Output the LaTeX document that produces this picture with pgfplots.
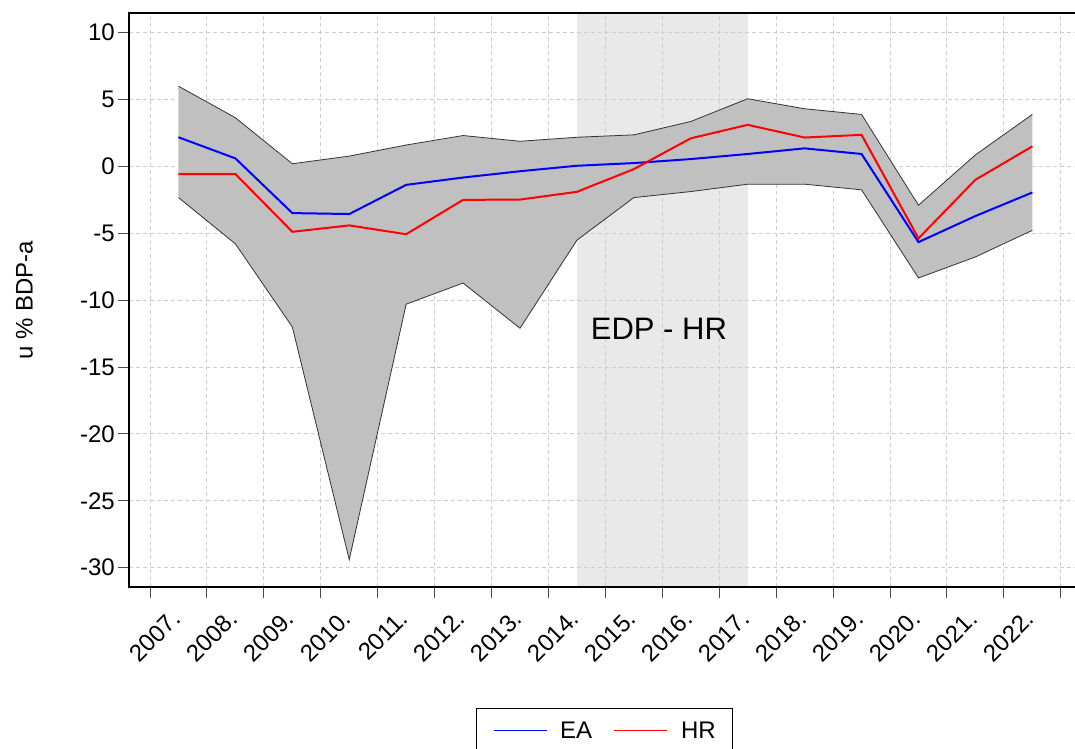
\documentclass[border=0pt]{standalone}
\usepackage{pgfplots}
\pgfplotsset{compat=1.18}
\usepgfplotslibrary{fillbetween}
\usepackage{pgfplotstable}
\usepackage{fontspec}
\setmainfont{Liberation Sans}
\definecolor{bandgray}{RGB}{192,192,192}
\definecolor{edpgray}{RGB}{233,233,233}
\definecolor{gridgray}{RGB}{205,205,205}
\definecolor{eablue}{RGB}{0,0,255}
\definecolor{hrred}{RGB}{255,0,0}

\pgfplotstableread{
k upper lower ea hr
0  6.00  -2.33  2.18 -0.57
1  3.64  -5.79  0.60 -0.57
2  0.20 -12.00 -3.49 -4.89
3  0.77 -29.40 -3.56 -4.41
4  1.60 -10.30 -1.38 -5.07
5  2.31  -8.72 -0.83 -2.50
6  1.88 -12.10 -0.36 -2.48
7  2.18  -5.51  0.05 -1.90
8  2.36  -2.33  0.25 -0.20
9  3.36  -1.88  0.55  2.10
10 5.06  -1.33  0.93  3.11
11 4.31  -1.33  1.35  2.16
12 3.89  -1.75  0.93  2.36
13 -2.90 -8.34 -5.66 -5.38
14 0.86  -6.77 -3.71 -1.00
15 3.89  -4.78 -1.95  1.50
}\datatable

\begin{document}
\begin{tikzpicture}
\begin{axis}[
  set layers,
  scale only axis,
  width=947.7bp, height=574bp,
  at={(129.3bp,161.7bp)}, anchor=south west,
  xmin=-0.864, xmax=15.785,
  ymin=-31.47, ymax=11.45,
  axis line style={line width=2bp, black},
  tick align=outside, tick pos=left,
  major tick length=11bp, minor tick length=11bp,
  tick style={black!70, line width=0.9bp},
  major x tick style={draw=none},
  xtick={0,...,15},
  xticklabels={2007.,2008.,2009.,2010.,2011.,2012.,2013.,2014.,2015.,2016.,2017.,2018.,2019.,2020.,2021.,2022.},
  minor xtick={-0.5,0.5,...,15.5},
  ytick={-30,-25,...,10},
  yticklabels={-30,-25,-20,-15,-10,-5,0,5,10},
  ticklabel style={font=\fontsize{24bp}{28bp}\selectfont},
  xticklabel style={yshift=-14bp, rotate=45, anchor=east},
  grid style={gridgray, line width=0.9bp, dash pattern=on 4bp off 3bp},
  minor grid style={gridgray, line width=0.9bp, dash pattern=on 4bp off 3bp},
  xmajorgrids=false, xminorgrids=true, ymajorgrids=true,
  ylabel={u \% BDP-a},
  every axis y label/.style={at={(axis description cs:-0.1106,0.5)}, rotate=90, anchor=center, font=\fontsize{24bp}{28bp}\selectfont},
  legend columns=2,
  legend style={at={(axis description cs:0.3658,-0.2098)}, anchor=north west, draw=black, line width=1bp,
    inner xsep=16.5bp, inner ysep=13.5bp, font=\fontsize{24bp}{28bp}\selectfont,
    nodes={inner sep=0pt},
    /tikz/every odd column/.append style={column sep=13bp},
    /tikz/every even column/.append style={column sep=21.7bp}},
  legend image code/.code={\draw[#1, line width=1.2bp] (0bp,0bp) -- (53bp,0bp);},
]
\addplot[on layer=axis background, fill=edpgray, draw=none, forget plot] coordinates {(7,-31.47) (10,-31.47) (10,11.45) (7,11.45)} -- cycle;
\addplot[name path=U, black!80, line width=0.8bp, forget plot] table[x=k, y=upper] {\datatable};
\addplot[name path=L, black!80, line width=0.8bp, forget plot] table[x=k, y=lower] {\datatable};
\addplot[bandgray, forget plot] fill between[of=U and L];
\addplot[eablue, line width=2bp] table[x=k, y=ea] {\datatable};
\addlegendentry{EA}
\addplot[hrred, line width=2bp] table[x=k, y=hr] {\datatable};
\addlegendentry{HR}
\node[font=\fontsize{31bp}{36bp}\selectfont] at (axis cs:8.44,-12.15) {EDP - HR};
\end{axis}
\pgfresetboundingbox
\useasboundingbox (0,0) rectangle (1075bp,749bp);
\end{tikzpicture}
\end{document}
